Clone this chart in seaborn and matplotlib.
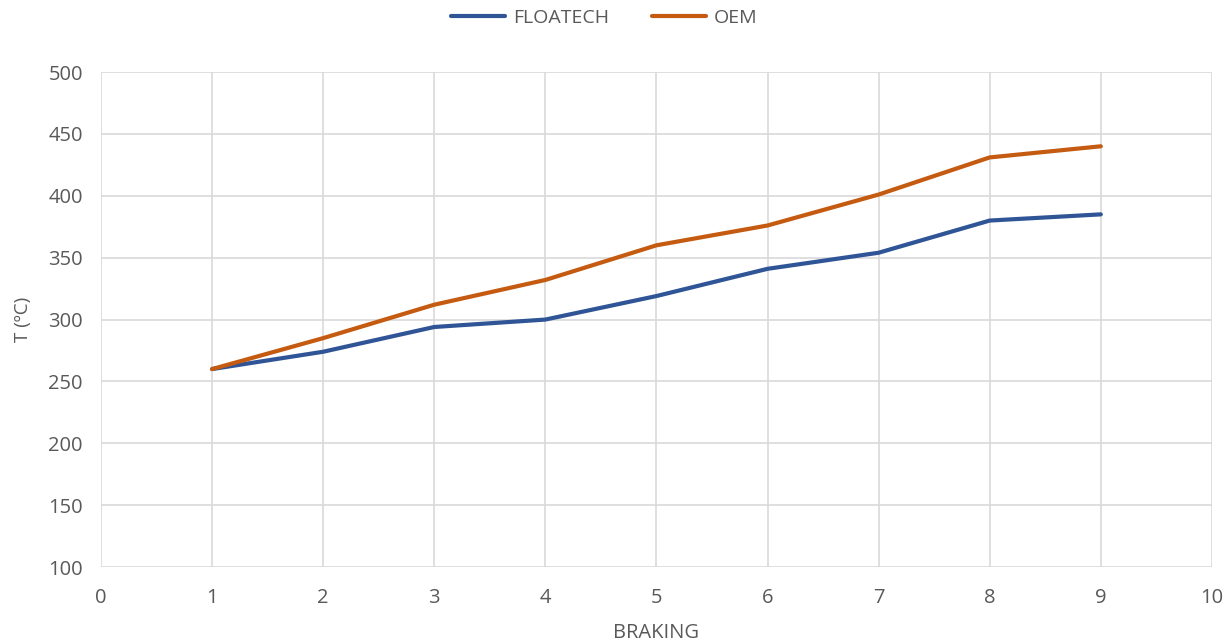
import pandas as pd
import seaborn as sns
import matplotlib.pyplot as plt

# Data
braking = [1, 2, 3, 4, 5, 6, 7, 8, 9]
floatech = [260, 274, 294, 300, 319, 341, 354, 380, 385]
oem = [260, 285, 312, 332, 360, 376, 401, 431, 440]

df = pd.DataFrame({'BRAKING': braking * 2,
                   'T': floatech + oem,
                   'series': ['FLOATECH'] * len(braking) + ['OEM'] * len(braking)})

sns.set_style('white')
plt.rcParams['font.family'] = ['Open Sans', 'DejaVu Sans']

fig = plt.figure(figsize=(12.28, 6.43), dpi=100)
ax = fig.add_axes([0.0822, 0.118, 0.9047, 0.770])

sns.lineplot(data=df, x='BRAKING', y='T', hue='series',
             palette={'FLOATECH': '#2F5597', 'OEM': '#C55A11'},
             linewidth=3, ax=ax, legend=True)

ax.set_xlim(0, 10)
ax.set_ylim(100, 500)
ax.set_xticks(range(0, 11))
ax.set_yticks(range(100, 501, 50))
ax.grid(True, color='#D9D9D9', linewidth=1.2)
for s in ax.spines.values():
    s.set_visible(False)
ax.tick_params(axis='both', colors='#595959', labelsize=14.5, length=0)
ax.tick_params(axis='x', pad=15)
ax.tick_params(axis='y', pad=13)

ax.set_xlabel('BRAKING', color='#595959', fontsize=14.5, labelpad=11)
ax.set_ylabel('T (ºC)', color='#595959', fontsize=13.5, labelpad=12)

handles, labels = ax.get_legend_handles_labels()
ax.get_legend().remove()
leg = fig.legend(handles, labels, loc='center', bbox_to_anchor=(0.492, 0.972),
                 ncol=2, frameon=False, fontsize=14, handlelength=2.8,
                 handletextpad=0.4, columnspacing=2.2)
for t in leg.get_texts():
    t.set_color('#595959')

fig.savefig('out.png', dpi=100)
